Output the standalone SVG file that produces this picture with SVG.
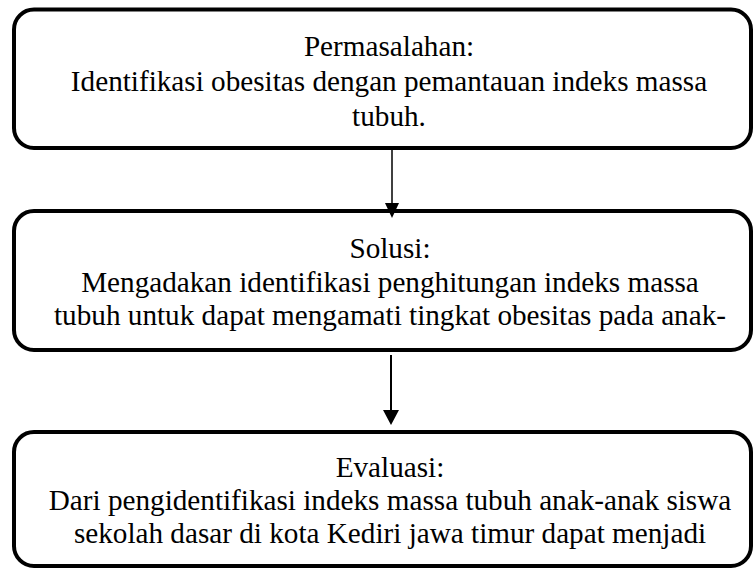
<svg xmlns="http://www.w3.org/2000/svg" width="755" height="570" viewBox="0 0 755 570">
<style>
.box{fill:#fff;stroke:#000;stroke-width:4}
.t{font-family:"Liberation Serif","Times New Roman",serif;font-size:29.2px;fill:#000;text-anchor:middle}
.c{stroke:#000;fill:none}
.h{fill:#000}
</style>
<rect width="755" height="570" fill="#fff"/>
<g id="node1">
<rect class="box" x="14" y="9.5" width="737" height="138.5" rx="20" ry="20"/>
<text class="t" x="389" y="56">Permasalahan:</text>
<text class="t" x="389" y="91">Identifikasi obesitas dengan pemantauan indeks massa</text>
<text class="t" x="389" y="126">tubuh.</text>
</g>
<g id="node2">
<rect class="box" x="14" y="211" width="737" height="139" rx="20" ry="20"/>
<text class="t" x="390" y="258">Solusi:</text>
<text class="t" x="390" y="291.5">Mengadakan identifikasi penghitungan indeks massa</text>
<text class="t" x="390" y="325">tubuh untuk dapat mengamati tingkat obesitas pada anak-</text>
</g>
<g id="node3">
<rect class="box" x="14" y="432" width="737" height="134" rx="20" ry="20"/>
<text class="t" x="390" y="477">Evaluasi:</text>
<text class="t" x="390" y="510">Dari pengidentifikasi indeks massa tubuh anak-anak siswa</text>
<text class="t" x="390" y="543">sekolah dasar di kota Kediri jawa timur dapat menjadi</text>
</g>
<g id="connectors">
<line class="c" x1="392" y1="150" x2="392" y2="204" stroke-width="1.5"/>
<polygon class="h" points="385,203 399,203 392,218"/>
<line class="c" x1="391" y1="355" x2="391" y2="411" stroke-width="2"/>
<polygon class="h" points="383,410 399,410 391,425"/>
</g>
</svg>
